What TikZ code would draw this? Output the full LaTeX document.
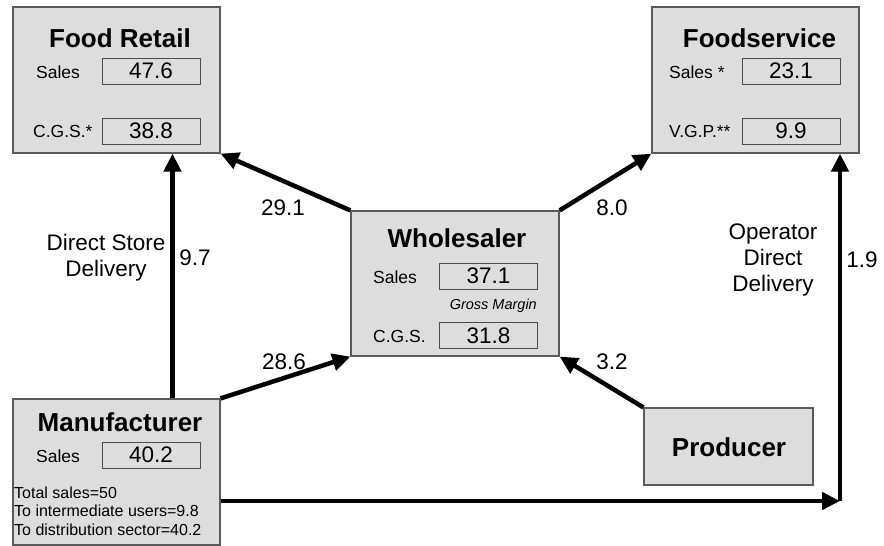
\documentclass[tikz,border=0pt]{standalone}
\usepackage{fontspec}
\setmainfont{Liberation Sans}
\usetikzlibrary{arrows.meta}
\definecolor{boxgray}{RGB}{221,221,221}
\definecolor{rimgray}{RGB}{90,90,90}
\tikzset{sector node/.style={rectangle,fill=boxgray,draw=rimgray,line width=1.2pt,inner sep=0pt},
  value node/.style={rectangle,draw=black!70,line width=1pt,minimum width=98pt,minimum height=26pt,
    inner sep=0pt,font=\fontsize{22.5}{27}\selectfont},
}

\begin{document}
\begin{tikzpicture}[x=1pt,y=-1pt,>={Triangle[length=18pt,width=17pt]},
		flow/.style={->,line width=4.5pt},
		title node/.style={font=\fontsize{26}{31}\selectfont\bfseries,inner sep=0pt},
		item node/.style={font=\fontsize{17.5}{21}\selectfont,anchor=west,inner sep=0pt},
		flow label/.style={font=\fontsize{22.5}{26}\selectfont,align=center,inner sep=0pt}]
		
		\useasboundingbox (0,0) rectangle (884,546);
		
		% sectors
		\node[sector node,minimum width=207pt,minimum height=146pt] (retail) at (116.5,80) {};
		\node[sector node,minimum width=207pt,minimum height=146pt] (service) at (755.5,80) {};
		\node[sector node,minimum width=208pt,minimum height=145pt] (whole) at (455,283.5) {};
		\node[sector node,minimum width=207pt,minimum height=146pt] (manuf) at (116.5,472) {};
		\node[sector node,minimum width=169pt,minimum height=77pt] (prod) at (728.5,446.5) {};
		
		% food retail
		\node[title node] (rtitle) at (120,38) {Food Retail};
		\node[item node] (rsaleslbl) at (36,72) {Sales};
		\node[value node] (rsales) at (151,71) {47.6};
		\node[item node] (rcgslbl) at (33,131) {C.G.S.*};
		\node[value node] (rcgs) at (151,131) {38.8};
		
		% foodservice
		\node[title node] (stitle) at (759.5,38) {Foodservice};
		\node[item node] (ssaleslbl) at (669,72) {Sales *};
		\node[value node] (ssales) at (791,71) {23.1};
		\node[item node] (svgplbl) at (669,131) {V.G.P.**};
		\node[value node] (svgp) at (791,131) {9.9};
		
		% wholesaler
		\node[title node] (wtitle) at (457,238) {Wholesaler};
		\node[item node] (wsaleslbl) at (373,277) {Sales};
		\node[value node] (wsales) at (488.5,276) {37.1};
		\node[font=\fontsize{14.5}{17}\selectfont\itshape,anchor=east,inner sep=0pt] (wgm) at (537,306) {Gross Margin};
		\node[item node] (wcgslbl) at (373,336) {C.G.S.};
		\node[value node] (wcgs) at (488.5,335.5) {31.8};
		
		% manufacturer
		\node[title node] (mtitle) at (120,422) {Manufacturer};
		\node[item node] (msaleslbl) at (36,456) {Sales};
		\node[value node] (msales) at (151,455) {40.2};
		\node[font=\fontsize{16}{18.5}\selectfont,anchor=west,align=left,inner sep=0pt] (mnote) at (14,511)
			{Total sales=50\\To intermediate users=9.8\\To distribution sector=40.2};
		
		% producer
		\node[title node] (ptitle) at (729,447) {Producer};
		
		\coordinate (turn) at (840,501);
		
		\path[flow]
		([xshift=56pt]manuf.north) edge ([xshift=56pt]retail.south)
		(manuf.north east) edge (whole.south west)
		(whole.north west) edge (retail.south east)
		(whole.north east) edge (service.south west)
		(prod.north west) edge (whole.south east)
		(manuf.east |- turn) edge (turn)
		(turn) edge (turn |- service.south)
		;
		
		\node[flow label] (dsd) at (106,258) {Direct Store\\Delivery};
		\node[flow label] (f97) at (195,258) {9.7};
		\node[flow label] (f291) at (283,208) {29.1};
		\node[flow label] (f286) at (284,362) {28.6};
		\node[flow label] (f80) at (612,208) {8.0};
		\node[flow label] (f32) at (612,362) {3.2};
		\node[flow label] (odd) at (773,260) {Operator\\Direct\\Delivery};
		\node[flow label] (f19) at (862,260) {1.9};
		
\end{tikzpicture}
\end{document}
